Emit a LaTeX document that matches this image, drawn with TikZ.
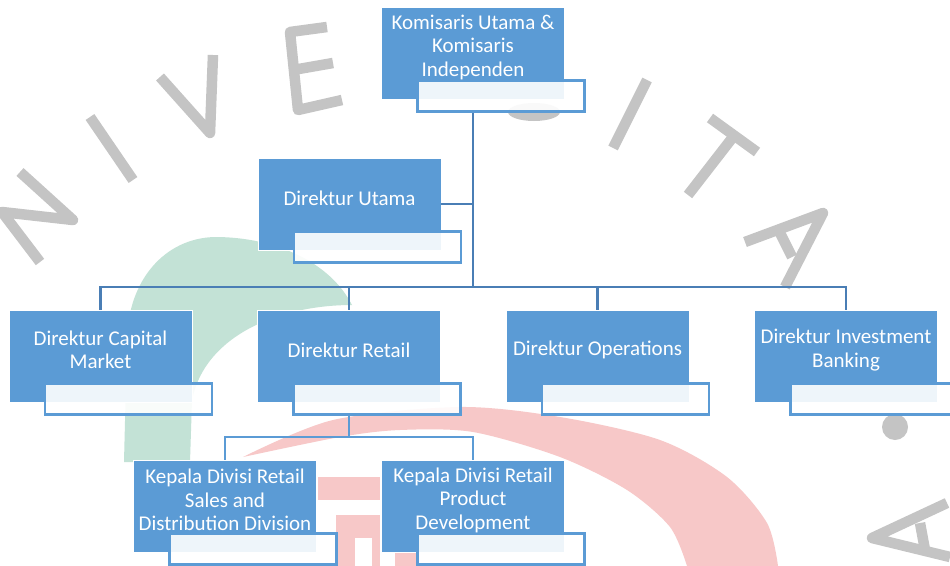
\documentclass[tikz,border=0pt]{standalone}
\usepackage{fontspec}
\setmainfont{Carlito}
\definecolor{boxblue}{HTML}{5B9BD5}
\definecolor{linedark}{HTML}{4A7EB5}
\definecolor{wmgray}{HTML}{C4C4C4}
\definecolor{wmgreen}{HTML}{C3E2D6}
\definecolor{wmred}{HTML}{F7C8C8}
\begin{document}
\begin{tikzpicture}[x=1pt,y=-1pt,
  bluebox/.style={draw=white, line width=0.8pt, fill=boxblue, minimum width=183pt, minimum height=92pt, inner sep=0pt},
  labbox/.style={draw=boxblue, line width=2.2pt, fill=white, fill opacity=0.9, minimum width=167pt, minimum height=31pt, inner sep=0pt},
  txt/.style={text=white, align=center, font=\fontsize{21}{23.5}\selectfont, inner sep=0pt},
  conn/.style={draw=linedark, line width=2.6pt},
  subconn/.style={draw=boxblue, line width=2.6pt},
  wm/.style={draw=wmgray, line width=10.5pt, line join=round}
]
\useasboundingbox (0,0) rectangle (950,565);
\fill[white] (0,0) rectangle (950,565);

% ---------- watermark ----------
\fill[wmgreen] (124,462) -- (127,340) .. controls (128,280) and (165,238) .. (215,237)
  .. controls (275,237) and (330,262) .. (352,305)
  .. controls (280,305) and (205,335) .. (192,400) -- (190,462) -- cycle;
\fill[wmred] plot[smooth] coordinates {(243,457) (333,420) (460,407) (560,417) (660,440) (727,477) (767,523) (778,566)}
  -- plot[smooth] coordinates {(687,566) (670,527) (627,490) (560,457) (473,432) (400,430) (340,437) (243,457)} -- cycle;
\fill[wmred] (318,477) rectangle (380,500);
\fill[wmred] (336,515) rectangle (380,566);
\fill[white] (355,538) rectangle (372,566);
\fill[wmred] (395,545) rectangle (418,566);
\draw[wm] (20,172) -- (73,220) -- (2,212) -- (40,262);
\draw[wm] (90,117) -- (133,180);
\draw[wm] (160,77) -- (210,133) -- (213,55);
\draw[wm] (327,27) -- (290,32) -- (298,110) -- (342,100);
\draw[wm] (293,70) -- (333,63);
\draw[wm] (647,80) -- (613,148);
\draw[wm] (710,118) -- (757,152);
\draw[wm] (733,137) -- (688,195);
\draw[wm] (745,242) -- (823,213) -- (785,287);
\draw[wm] (780,233) -- (792,257);
\fill[wmgray] (895,427) circle (13);
\draw[wm] (947,503) -- (872,538) -- (950,557);
\draw[wm] (920,523) -- (925,550);
\fill[wmgray] (534,112) ellipse (26 and 9);

% ---------- boxes ----------
\node[bluebox] (top) at (473,53) {};
\node[labbox] (toplab) at ([xshift=28pt,yshift=-43pt]top.center) {};
\node[txt] (toptxt) at ([yshift=6pt]top.center) {Komisaris Utama \&\\Komisaris\\Independen};

\node[bluebox] (utama) at (349.5,204) {};
\node[labbox] (utamalab) at ([xshift=28pt,yshift=-43pt]utama.center) {};
\node[txt] (utamatxt) at ([yshift=6pt]utama.center) {Direktur Utama};

\node[bluebox] (cap) at (100.5,356) {};
\node[labbox] (caplab) at ([xshift=28pt,yshift=-43pt]cap.center) {};
\node[txt] (captxt) at ([yshift=6pt]cap.center) {Direktur Capital\\Market};

\node[bluebox] (ret) at (349,356) {};
\node[labbox] (retlab) at ([xshift=28pt,yshift=-43pt]ret.center) {};
\node[txt] (rettxt) at ([yshift=6pt]ret.center) {Direktur Retail};

\node[bluebox] (ops) at (597.5,356) {};
\node[labbox] (opslab) at ([xshift=28pt,yshift=-43pt]ops.center) {};
\node[txt] (opstxt) at ([yshift=6pt]ops.center) {Direktur Operations};

\node[bluebox] (inv) at (846,356) {};
\node[labbox] (invlab) at ([xshift=28pt,yshift=-43pt]inv.center) {};
\node[txt] (invtxt) at ([yshift=6pt]inv.center) {Direktur Investment\\Banking};

\node[bluebox] (sales) at (225,506) {};
\node[labbox] (saleslab) at ([xshift=28pt,yshift=-43pt]sales.center) {};
\node[txt] (salestxt) at ([yshift=6pt]sales.center) {Kepala Divisi Retail\\Sales and\\Distribution Division};

\node[bluebox] (prod) at (473,506) {};
\node[labbox] (prodlab) at ([xshift=28pt,yshift=-43pt]prod.center) {};
\node[txt] (prodtxt) at ([yshift=6pt]prod.center) {Kepala Divisi Retail\\Product\\Development};

% ---------- connectors ----------
\coordinate (bus) at (473,287);
\coordinate (sub) at (349,437);
\draw[conn] (top.center |- toplab.south) -- (bus);
\draw[conn] (utama.east) -- (utama.east -| bus);
\draw[conn] (cap.north) |- (bus);
\draw[conn] (ret.north) |- (bus);
\draw[conn] (ops.north) |- (bus);
\draw[conn] (inv.north) |- (bus);
\draw[subconn] (ret.center |- retlab.south) -- (sub);
\draw[subconn] (sales.north) |- (sub);
\draw[subconn] (prod.north) |- (sub);
\end{tikzpicture}
\end{document}
